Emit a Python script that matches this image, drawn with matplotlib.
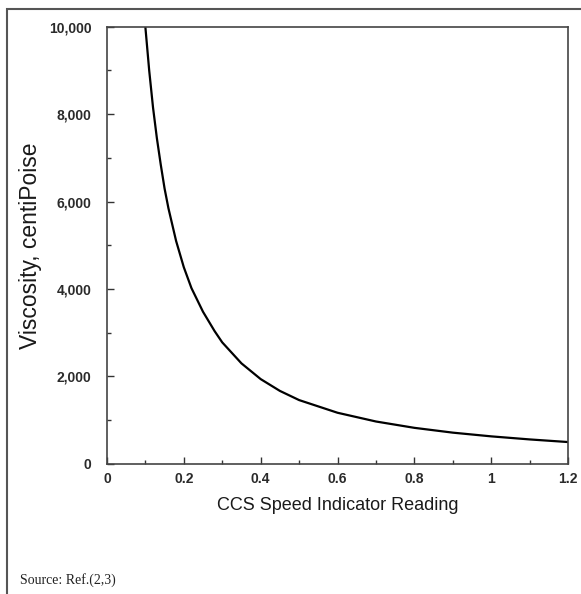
''' CCS speed indicator reading vs viscosity '''
import matplotlib.pyplot as plt
from matplotlib.patches import Rectangle
from matplotlib.ticker import MultipleLocator, FuncFormatter

# Values
reading = [0.10, 0.11, 0.12, 0.13, 0.14, 0.15, 0.16, 0.18, 0.20, 0.22, 0.25, 0.28,
           0.30, 0.35, 0.40, 0.45, 0.50, 0.60, 0.70, 0.80, 0.90, 1.00, 1.10, 1.20]
viscosity = [10000, 9000, 8150, 7450, 6850, 6300, 5850, 5100, 4500, 4020, 3480, 3040,
             2780, 2300, 1940, 1670, 1460, 1170, 970, 825, 715, 630, 560, 500]
x_ticks = [0, 0.2, 0.4, 0.6, 0.8, 1, 1.2]
y_ticks = [0, 2000, 4000, 6000, 8000, 10000]

plt.rcParams['font.family'] = ['Liberation Sans', 'DejaVu Sans']

fig = plt.figure(figsize=(5.81, 5.94), dpi=100)
ax = fig.add_axes([0.184, 0.219, 0.794, 0.736])

ax.plot(reading, viscosity, color='black', lw=1.6, solid_joinstyle='round')

ax.set_xlim(0, 1.2)
ax.set_ylim(0, 10000)
ax.set_xticks(x_ticks)
ax.set_yticks(y_ticks)
ax.xaxis.set_minor_locator(MultipleLocator(0.1))
ax.yaxis.set_minor_locator(MultipleLocator(1000))
ax.xaxis.set_major_formatter(FuncFormatter(lambda v, p: f'{v:g}'))
ax.yaxis.set_major_formatter(FuncFormatter(lambda v, p: f'{int(v):,}'))

ax.tick_params(which='both', direction='in', top=False, right=False, color='#333333')
ax.tick_params(which='major', length=5, width=1)
ax.tick_params(which='minor', length=3, width=1)
ax.tick_params(axis='y', which='major', pad=11)
ax.tick_params(axis='x', which='major', pad=6)
for lbl in ax.get_xticklabels() + ax.get_yticklabels():
    lbl.set_fontsize(10)
    lbl.set_fontweight('bold')
    lbl.set_color('#2a2a2a')

for sp in ax.spines.values():
    sp.set_color('#444444')
    sp.set_linewidth(1.2)

ax.set_xlabel('CCS Speed Indicator Reading', fontsize=13, color='#1a1a1a', labelpad=8)
ax.set_ylabel('Viscosity, centiPoise', fontsize=16.5, color='#1a1a1a', labelpad=5)

# Outer frame, cut off at right and bottom like the scan
fig.patches.append(Rectangle((7 / 581, -0.1), 1.2, 1.1 - 9 / 594, transform=fig.transFigure,
                             fill=False, edgecolor='#555555', lw=1.5))

fig.text(20 / 581, 1 - 580 / 594, 'Source: Ref.(2,3)', family='Liberation Serif',
         fontsize=10, color='#222222', va='center')

fig.savefig('out.png', dpi=100)
